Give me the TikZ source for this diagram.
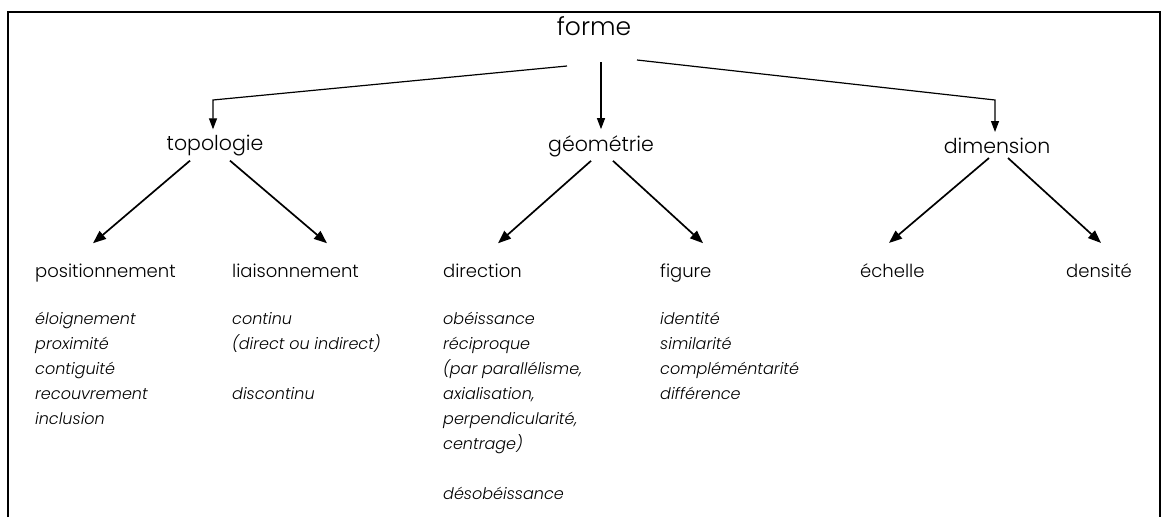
\documentclass[tikz,border=0pt]{standalone}
\usepackage{fontspec}
\setmainfont{Poppins}[UprightFont={* Light},ItalicFont={* Light Italic}]
\usetikzlibrary{arrows.meta}

\begin{document}
\begin{tikzpicture}[x=1pt,y=-1pt]
  \tikzset{top level/.style={font=\fontsize{25}{30}\selectfont,inner sep=0pt},
           mid level/.style={font=\fontsize{20.5}{24}\selectfont,inner sep=0pt},
           low level/.style={font=\fontsize{18}{22}\selectfont,inner sep=0pt,anchor=base west},
           item list/.style={font=\fontsize{16}{25}\selectfont\itshape,inner sep=0pt,anchor=north west,align=left},
           thin arrow/.style={line width=1.2pt,-{Triangle[length=11pt,width=8pt]}},
           thick arrow/.style={line width=1.7pt,-{Triangle[length=13pt,width=10pt]}}}

  \useasboundingbox (0,0) rectangle (1166,517);
  \draw[line width=1.5pt] (8,517) -- (8,12) -- (1160,12) -- (1160,517);

  \node [top level] (forme) at (594,26) {forme};

  \node [mid level] (topologie) at (215,146) {topologie};
  \node [mid level] (geometrie) at (601,146) {géométrie};
  \node [mid level] (dimension) at (997,146) {dimension};

  \node [low level] (position) at (35,277) {positionnement};
  \node [low level] (liaison) at (232,277) {liaisonnement};
  \node [low level] (direction) at (443,277) {direction};
  \node [low level] (figure) at (660,277) {figure};
  \node [low level] (echelle) at (860,277) {échelle};
  \node [low level] (densite) at (1066,277) {densité};

  \node [item list] (posliste) at (35,312) {éloignement\\proximité\\contiguité\\recouvrement\\inclusion};
  \node [item list] (liaisliste) at (232,312) {continu\\(direct ou indirect)\\\\discontinu};
  \node [item list] (dirliste) at (443,312) {obéissance\\réciproque\\(par parallélisme,\\axialisation,\\perpendicularité,\\centrage)\\\\désobéissance};
  \node [item list] (figliste) at (660,312) {identité\\similarité\\compléméntarité\\différence};

  % forme vers les trois branches
  \coordinate (coin gauche) at (213,100);
  \coordinate (coin droit) at (995,100);
  \draw[thin arrow] ([xshift=-27pt,yshift=-40pt]forme.center) -- (coin gauche) -- ([yshift=6pt]coin gauche |- topologie.north);
  \draw[thin arrow] ([xshift=7pt,yshift=-36pt]forme.center) -- ([xshift=7pt,yshift=6pt]forme.center |- geometrie.north);
  \draw[thin arrow] ([xshift=43pt,yshift=-34pt]forme.center) -- (coin droit) -- ([yshift=6pt]coin droit |- dimension.north);

  % deuxieme niveau
  \draw[thick arrow] ([xshift=-25pt,yshift=-4pt]topologie.south) -- ([xshift=58pt,yshift=20pt]position.north west);
  \draw[thick arrow] ([xshift=15pt,yshift=-4pt]topologie.south) -- ([xshift=95pt,yshift=20pt]liaison.north west);
  \draw[thick arrow] ([xshift=-10pt,yshift=-4pt]geometrie.south) -- ([xshift=55pt,yshift=20pt]direction.north west);
  \draw[thick arrow] ([xshift=12pt,yshift=-4pt]geometrie.south) -- ([xshift=43pt,yshift=20pt]figure.north west);
  \draw[thick arrow] ([xshift=-8pt,yshift=-4pt]dimension.south) -- ([xshift=29pt,yshift=20pt]echelle.north west);
  \draw[thick arrow] ([xshift=11pt,yshift=-4pt]dimension.south) -- ([xshift=35pt,yshift=20pt]densite.north west);
\end{tikzpicture}
\end{document}
